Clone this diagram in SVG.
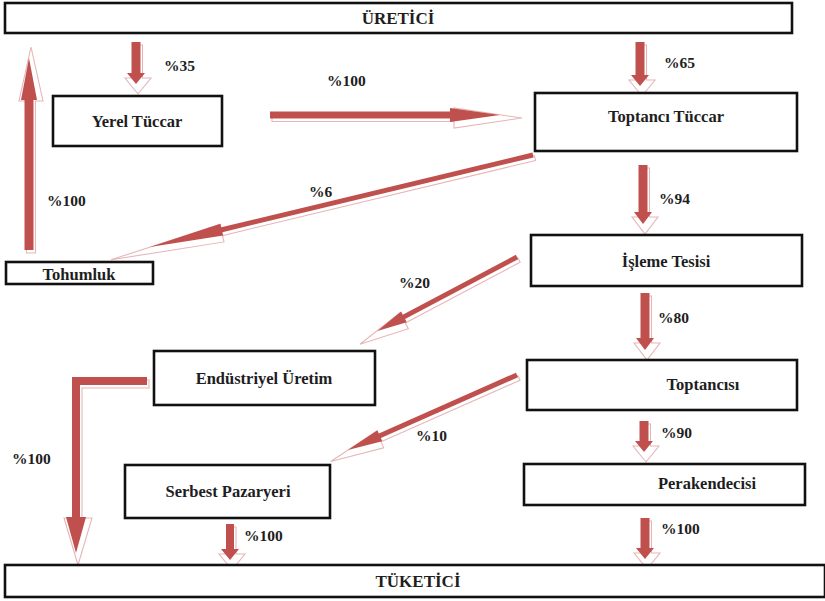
<svg xmlns="http://www.w3.org/2000/svg" width="825" height="601" viewBox="0 0 825 601">
<style>
.box{fill:#fff;stroke:#111;stroke-width:2.6}
.n{font-family:'Liberation Serif','DejaVu Serif',serif;font-weight:700;font-size:16.5px;fill:#1e1e1e;text-anchor:middle}
.t{font-size:17px}
.p{font-family:'Liberation Serif','DejaVu Serif',serif;font-weight:700;font-size:15.5px;fill:#1e1e1e}
.ar{fill:#C0504D}
.sh{fill:none;stroke:#E6B6B6;stroke-width:1.1}
</style>
<rect width="825" height="601" fill="#fff"/>

<g id="connectors">
  <g id="c-35"><g transform="translate(2,3)"><polygon class="sh" transform="translate(136,42) rotate(90)" points="0,-4.5 33,-4.5 33,-13 49,0 33,13 33,4.5 0,4.5"/></g>
  <polygon class="ar" transform="translate(136,42) rotate(90)" points="0,-4.5 31,-4.5 31,-9 42,0 31,9 31,4.5 0,4.5"/></g>
  <g id="c-65"><g transform="translate(2,3)"><polygon class="sh" transform="translate(640,42) rotate(90)" points="0,-4.5 35,-4.5 35,-13 51,0 35,13 35,4.5 0,4.5"/></g>
  <polygon class="ar" transform="translate(640,42) rotate(90)" points="0,-4.5 33,-4.5 33,-9 44,0 33,9 33,4.5 0,4.5"/></g>
  <g id="c-94"><g transform="translate(2,3)"><polygon class="sh" transform="translate(643,165) rotate(90)" points="0,-4.5 49,-4.5 49,-13 66,0 49,13 49,4.5 0,4.5"/></g>
  <polygon class="ar" transform="translate(643,165) rotate(90)" points="0,-4.5 47,-4.5 47,-9 59,0 47,9 47,4.5 0,4.5"/></g>
  <g id="c-80"><g transform="translate(2,3)"><polygon class="sh" transform="translate(645,293) rotate(90)" points="0,-4.5 47,-4.5 47,-13 64,0 47,13 47,4.5 0,4.5"/></g>
  <polygon class="ar" transform="translate(645,293) rotate(90)" points="0,-4.5 45,-4.5 45,-9 57,0 45,9 45,4.5 0,4.5"/></g>
  <g id="c-90"><g transform="translate(2,3)"><polygon class="sh" transform="translate(644,421) rotate(90)" points="0,-4.5 22,-4.5 22,-13 38,0 22,13 22,4.5 0,4.5"/></g>
  <polygon class="ar" transform="translate(644,421) rotate(90)" points="0,-4.5 20,-4.5 20,-9 31,0 20,9 20,4.5 0,4.5"/></g>
  <g id="c-100p"><g transform="translate(2,3)"><polygon class="sh" transform="translate(645,518) rotate(90)" points="0,-4.5 32,-4.5 32,-13 48,0 32,13 32,4.5 0,4.5"/></g>
  <polygon class="ar" transform="translate(645,518) rotate(90)" points="0,-4.5 30,-4.5 30,-9 41,0 30,9 30,4.5 0,4.5"/></g>
  <g id="c-100s"><g transform="translate(2,3)"><polygon class="sh" transform="translate(230,524) rotate(90)" points="0,-4 27,-4 27,-13 43,0 27,13 27,4 0,4"/></g>
  <polygon class="ar" transform="translate(230,524) rotate(90)" points="0,-4 25,-4 25,-9 36,0 25,9 25,4 0,4"/></g>
  <g id="c-100u"><g transform="translate(2,3)"><polygon class="sh" transform="translate(29,250) rotate(-90)" points="0,-4.5 152,-4.5 152,-12 206,0 152,12 152,4.5 0,4.5"/></g>
  <polygon class="ar" transform="translate(29,250) rotate(-90)" points="0,-4.5 150,-4.5 150,-8 192,0 150,8 150,4.5 0,4.5"/></g>
  <g id="c-100h"><g transform="translate(2,3)"><polygon class="sh" transform="translate(270,115)" points="0,-3.5 182,-3.5 182,-10 250,0 182,10 182,3.5 0,3.5"/></g>
  <polygon class="ar" transform="translate(270,115)" points="0,-3.5 180,-3.5 180,-7 230,0 180,7 180,3.5 0,3.5"/></g>
  <g id="c-6"><g transform="translate(2,3)"><polygon class="sh" transform="translate(533,155) rotate(166.5)" points="0,-2.5 322,-2.5 322,-9 436,0 322,9 322,2.5 0,2.5"/></g>
  <polygon class="ar" transform="translate(533,155) rotate(166.5)" points="0,-2.5 320,-2.5 320,-6 394,0 320,6 320,2.5 0,2.5"/></g>
  <g id="c-20"><g transform="translate(2,3)"><polygon class="sh" transform="translate(517,257) rotate(152.1)" points="0,-2.5 130,-2.5 130,-9 180,0 130,9 130,2.5 0,2.5"/></g>
  <polygon class="ar" transform="translate(517,257) rotate(152.1)" points="0,-2.5 128,-2.5 128,-6 158,0 128,6 128,2.5 0,2.5"/></g>
  <g id="c-10"><g transform="translate(2,3)"><polygon class="sh" transform="translate(517,375) rotate(156.1)" points="0,-2.5 152,-2.5 152,-9 206,0 152,9 152,2.5 0,2.5"/></g>
  <polygon class="ar" transform="translate(517,375) rotate(156.1)" points="0,-2.5 150,-2.5 150,-6 185,0 150,6 150,2.5 0,2.5"/></g>
  <g id="c-100e"><g transform="translate(2,3)"><polygon class="sh" points="147,377 147,385 80,385 80,515 90,515 76,562 62,515 72,515 72,377"/></g>
  <polygon class="ar" points="147,377 147,385 80,385 80,517 86,517 76,553 66,517 72,517 72,377"/></g>

  <text class="p" x="164" y="71">%35</text>
  <text class="p" x="327" y="86">%100</text>
  <text class="p" x="47" y="206">%100</text>
  <text class="p" x="309" y="197">%6</text>
  <text class="p" x="664" y="68">%65</text>
  <text class="p" x="659" y="204">%94</text>
  <text class="p" x="399" y="288">%20</text>
  <text class="p" x="658" y="323">%80</text>
  <text class="p" x="416" y="441">%10</text>
  <text class="p" x="661" y="438">%90</text>
  <text class="p" x="12" y="464">%100</text>
  <text class="p" x="244" y="541">%100</text>
  <text class="p" x="661" y="534">%100</text>
</g>

<g id="uretici"><rect class="box" x="5" y="3" width="787" height="30"/><text class="n t" x="398" y="24">ÜRETİCİ</text></g>
<g id="yerel-tuccar"><rect class="box" x="53" y="96" width="169" height="50"/><text class="n" x="137" y="127">Yerel Tüccar</text></g>
<g id="toptanci-tuccar"><rect class="box" x="535" y="93" width="262" height="58"/><text class="n" x="666" y="122">Toptancı Tüccar</text></g>
<g id="tohumluk"><rect class="box" x="6" y="262" width="147" height="22"/><text class="n" x="79" y="280">Tohumluk</text></g>
<g id="isleme-tesisi"><rect class="box" x="531" y="235" width="271" height="51"/><text class="n" x="666" y="267">İşleme Tesisi</text></g>
<g id="endustriyel-uretim"><rect class="box" x="154" y="351" width="221" height="54"/><text class="n" x="264" y="384">Endüstriyel Üretim</text></g>
<g id="toptancisi"><rect class="box" x="527" y="360" width="270" height="50"/><text class="n" x="703" y="390">Toptancısı</text></g>
<g id="serbest-pazaryeri"><rect class="box" x="125" y="465" width="205" height="53"/><text class="n" x="228" y="497">Serbest Pazaryeri</text></g>
<g id="perakendecisi"><rect class="box" x="524" y="464" width="281" height="41"/><text class="n" x="707" y="489">Perakendecisi</text></g>
<g id="tuketici"><rect class="box" x="5" y="565" width="820" height="32"/><text class="n t" x="418" y="587">TÜKETİCİ</text></g>
</svg>
